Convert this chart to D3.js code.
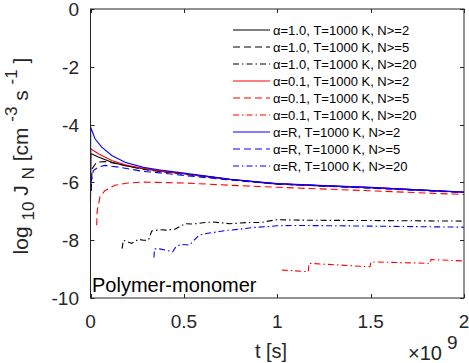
<!DOCTYPE html>
<html lang="en">
<head>
<meta charset="UTF-8">
<title>Polymer-monomer nucleation rate</title>
<script src="https://d3js.org/d3.v7.min.js"></script>
<style>
  body { margin: 0; background: #fff; }
  svg { display: block; font-family: "Liberation Sans", Arial, sans-serif; }
  .axis-line { stroke: #262626; stroke-width: 1; fill: none; }
  .tick-label { font-size: 19px; fill: #262626; }
</style>
</head>
<body>
<div id="chart"></div>
<script>
  /** DATA: time in units of 1e9 s, log10 J_N */
  var xTicks = [0, 0.5, 1, 1.5, 2];
  var yTicks = [0, -2, -4, -6, -8, -10];

  var legendLabels = [
    'α=1.0, T=1000 K, N>=2', 'α=1.0, T=1000 K, N>=5', 'α=1.0, T=1000 K, N>=20',
    'α=0.1, T=1000 K, N>=2', 'α=0.1, T=1000 K, N>=5', 'α=0.1, T=1000 K, N>=20',
    'α=R, T=1000 K, N>=2', 'α=R, T=1000 K, N>=5', 'α=R, T=1000 K, N>=20'
  ];

  var tBlack2 = [0, 0.002, 0.042, 0.114, 0.185, 0.283, 0.373, 0.5, 0.64, 0.75, 0.908, 1, 1.25, 1.5, 1.75, 2];
  var jBlack2 = [-6.5, -5.0, -5.12, -5.3, -5.42, -5.53, -5.61, -5.7, -5.81, -5.9, -6.0, -6.05, -6.12, -6.18, -6.26, -6.34];

  var tBlack5 = [0.004, 0.008, 0.033, 0.078, 0.149, 0.283, 0.373, 0.5, 0.75, 1, 1.5, 2];
  var jBlack5 = [-6.3, -5.53, -5.3, -5.28, -5.36, -5.55, -5.62, -5.72, -5.9, -6.05, -6.19, -6.34];

  var tBlack20 = [0.169, 0.176, 0.194, 0.22, 0.256, 0.283, 0.31, 0.328, 0.372, 0.408, 0.452, 0.506, 0.55, 0.613, 0.656, 0.747, 0.836, 0.908, 0.997, 1.085, 1.175, 1.5, 2];
  var jBlack20 = [-8.29, -8.0, -8.05, -8.11, -7.97, -8.0, -8.0, -7.68, -7.64, -7.65, -7.62, -7.43, -7.44, -7.39, -7.37, -7.43, -7.39, -7.39, -7.29, -7.3, -7.31, -7.32, -7.34];

  var tRed2 = [0, 0.001, 0.042, 0.114, 0.185, 0.283, 0.373, 0.5, 0.64, 0.75, 0.908, 1, 1.25, 1.5, 1.75, 2];
  var jRed2 = [-5.7, -4.84, -5.01, -5.24, -5.39, -5.52, -5.6, -5.7, -5.81, -5.9, -6.0, -6.05, -6.12, -6.18, -6.26, -6.34];

  var tRed5 = [0.033, 0.036, 0.051, 0.078, 0.131, 0.2, 0.283, 0.5, 0.75, 1, 1.5, 2];
  var jRed5 = [-7.48, -6.97, -6.5, -6.28, -6.1, -6.02, -5.99, -6.02, -6.1, -6.17, -6.29, -6.42];

  var tRed20 = [1.024, 1.166, 1.17, 1.497, 1.502, 1.818, 1.823, 2];
  var jRed20 = [-9.03, -9.09, -8.8, -8.92, -8.75, -8.8, -8.67, -8.72];

  var tBlue2 = [0, 0.001, 0.024, 0.06, 0.114, 0.185, 0.283, 0.373, 0.5, 0.64, 0.75, 0.908, 1, 1.25, 1.5, 1.75, 2];
  var jBlue2 = [-6.68, -4.09, -4.49, -4.78, -5.07, -5.3, -5.48, -5.57, -5.68, -5.8, -5.89, -5.99, -6.04, -6.11, -6.17, -6.26, -6.33];

  var tBlue5 = [0.002, 0.015, 0.042, 0.078, 0.149, 0.283, 0.373, 0.5, 0.75, 1, 1.5, 2];
  var jBlue5 = [-6.05, -5.59, -5.47, -5.41, -5.47, -5.62, -5.67, -5.76, -5.92, -6.06, -6.2, -6.35];

  var tBlue20 = [0.34, 0.342, 0.37, 0.44, 0.46, 0.49, 0.53, 0.55, 0.58, 0.62, 0.69, 0.73, 0.8, 0.87, 0.95, 1.0, 1.1, 1.3, 1.6, 2];
  var jBlue20 = [-8.6, -8.3, -8.3, -8.4, -8.2, -8.15, -8.17, -8.03, -7.83, -7.77, -7.7, -7.66, -7.62, -7.56, -7.53, -7.5, -7.49, -7.5, -7.52, -7.55];

  /** series table built from the arrays above */
  var dashed = '7,4';
  var dashDot = '6,3,1.5,3';
  var series = [
    { t: tBlack2, j: jBlack2, color: '#000000', dash: null },
    { t: tBlack5, j: jBlack5, color: '#000000', dash: dashed },
    { t: tBlack20, j: jBlack20, color: '#000000', dash: dashDot },
    { t: tRed2, j: jRed2, color: '#ff0000', dash: null },
    { t: tRed5, j: jRed5, color: '#ff0000', dash: dashed },
    { t: tRed20, j: jRed20, color: '#ff0000', dash: dashDot },
    { t: tBlue2, j: jBlue2, color: '#0000ff', dash: null },
    { t: tBlue5, j: jBlue5, color: '#0000ff', dash: dashed },
    { t: tBlue20, j: jBlue20, color: '#0000ff', dash: dashDot }
  ];

  /** LAYOUT */
  var width = 469, height = 363;
  var plotLeft = 90.5, plotRight = 464, plotTop = 9, plotBottom = 298;

  var x = d3.scaleLinear().domain([0, 2]).range([plotLeft, plotRight]);
  var y = d3.scaleLinear().domain([-10, 0]).range([plotBottom, plotTop]);

  var svg = d3.select('#chart').append('svg')
    .attr('width', width)
    .attr('height', height);

  /** curves */
  var line = d3.line()
    .x(function (d) { return x(d[0]); })
    .y(function (d) { return y(d[1]); });

  var plotG = svg.append('g');
  series.forEach(function (s) {
    var pts = s.t.map(function (tv, i) { return [tv, s.j[i]]; });
    plotG.append('path')
      .attr('d', line(pts))
      .attr('fill', 'none')
      .attr('stroke', s.color)
      .attr('stroke-width', 1.1)
      .attr('stroke-dasharray', s.dash);
  });

  /** axes box + inward ticks on all sides */
  var tickLen = 4;
  var axisG = svg.append('g');
  axisG.append('rect')
    .attr('class', 'axis-line')
    .attr('x', plotLeft).attr('y', plotTop)
    .attr('width', plotRight - plotLeft).attr('height', plotBottom - plotTop);

  xTicks.forEach(function (v) {
    var px = Math.round(x(v)) + 0.5;
    axisG.append('line').attr('class', 'axis-line')
      .attr('x1', px).attr('x2', px).attr('y1', plotBottom).attr('y2', plotBottom - tickLen);
    axisG.append('line').attr('class', 'axis-line')
      .attr('x1', px).attr('x2', px).attr('y1', plotTop).attr('y2', plotTop + tickLen);
    axisG.append('text').attr('class', 'tick-label')
      .attr('x', x(v)).attr('y', 328)
      .attr('text-anchor', 'middle')
      .text(v);
  });

  yTicks.forEach(function (v) {
    var py = Math.round(y(v)) + 0.5;
    axisG.append('line').attr('class', 'axis-line')
      .attr('x1', plotLeft).attr('x2', plotLeft + tickLen).attr('y1', py).attr('y2', py);
    axisG.append('line').attr('class', 'axis-line')
      .attr('x1', plotRight).attr('x2', plotRight - tickLen).attr('y1', py).attr('y2', py);
    axisG.append('text').attr('class', 'tick-label')
      .attr('x', 79).attr('y', y(v) + 7)
      .attr('text-anchor', 'end')
      .text(v);
  });

  /** x label and exponent */
  svg.append('text')
    .attr('x', 271).attr('y', 358)
    .attr('text-anchor', 'middle')
    .attr('font-size', 20).attr('fill', '#262626')
    .text('t [s]');

  var expText = svg.append('text')
    .attr('x', 408).attr('y', 360)
    .attr('font-size', 20).attr('fill', '#262626');
  expText.append('tspan').text('×10');
  expText.append('tspan').attr('dx', 5).attr('dy', -11).attr('font-size', 19).text('9');

  /** y label with sub/superscripts */
  var yLab = svg.append('text')
    .attr('transform', 'translate(28,156) rotate(-90)')
    .attr('text-anchor', 'middle')
    .attr('font-size', 21).attr('fill', '#262626');
  yLab.append('tspan').text('log ');
  yLab.append('tspan').attr('dy', 6).attr('font-size', 17).text('10');
  yLab.append('tspan').attr('dy', -6).text(' J ');
  yLab.append('tspan').attr('dy', 6).attr('font-size', 17).text('N');
  yLab.append('tspan').attr('dy', -6).text(' [cm ');
  yLab.append('tspan').attr('dy', -11).attr('font-size', 17).text('-3');
  yLab.append('tspan').attr('dy', 11).text(' s ');
  yLab.append('tspan').attr('dy', -11).attr('font-size', 17).text('-1');
  yLab.append('tspan').attr('dy', 11).text(' ]');

  /** annotation */
  svg.append('text')
    .attr('x', 92).attr('y', 292)
    .attr('font-size', 20).attr('fill', '#000')
    .text('Polymer-monomer');

  /** legend */
  var legendLeft = 233, legendTop = 30, rowH = 17, sampleW = 37;
  var legendItem = svg.append('g')
    .selectAll('g')
    .data(series)
    .enter().append('g')
    .attr('transform', function (_, i) {
      return 'translate(' + legendLeft + ',' + (legendTop + i * rowH) + ')';
    });

  legendItem.append('line')
    .attr('x1', 0).attr('x2', sampleW)
    .attr('y1', 0).attr('y2', 0)
    .attr('stroke', function (d) { return d.color; })
    .attr('stroke-width', 1.2)
    .attr('stroke-dasharray', function (d) { return d.dash; });

  legendItem.append('text')
    .attr('x', sampleW + 3).attr('y', 4.5)
    .attr('font-size', 13).attr('fill', '#000')
    .text(function (_, i) { return legendLabels[i]; });
</script>
</body>
</html>
